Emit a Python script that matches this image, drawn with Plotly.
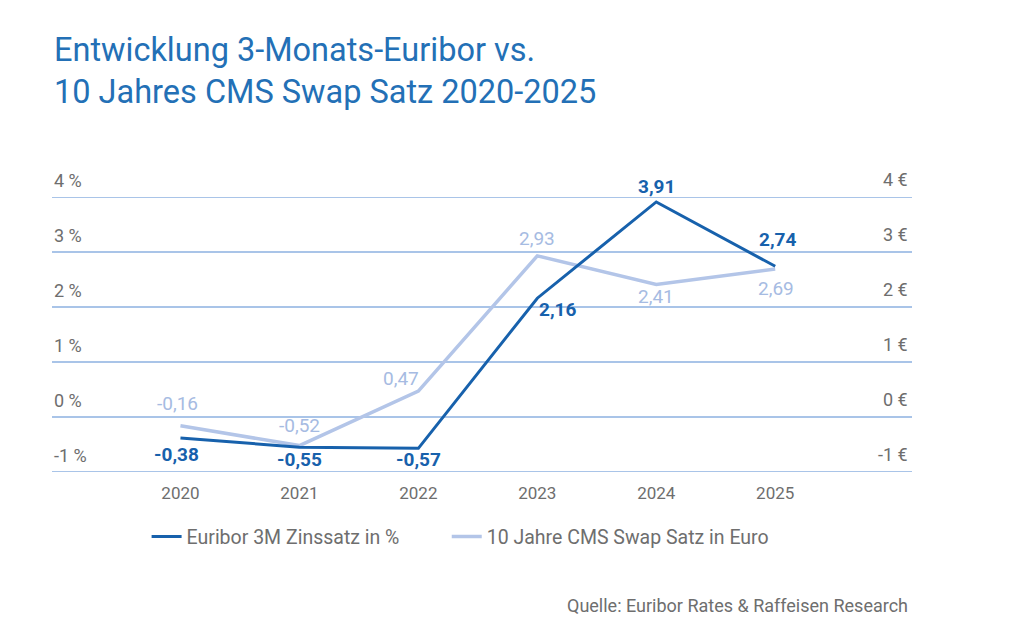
import plotly.graph_objects as go

years = [2020, 2021, 2022, 2023, 2024, 2025]
euribor = [-0.38, -0.55, -0.57, 2.16, 3.91, 2.74]
cms = [-0.16, -0.52, 0.47, 2.93, 2.41, 2.69]
y_ticks = [-1, 0, 1, 2, 3, 4]

name_euribor = "Euribor 3M Zinssatz in %"
name_cms = "10 Jahre CMS Swap Satz in Euro"
title_text = "Entwicklung 3-Monats-Euribor vs.<br>10 Jahres CMS Swap Satz 2020-2025"
source_text = "Quelle: Euribor Rates & Raffeisen Research"

# label offsets (pixels): (xshift, yshift)
euribor_off = [(-4, -17), (0, -12), (0, -11), (20, -11), (0, 15), (2, 27)]
cms_off = [(-3, 22), (0, 20), (-17, 13), (0, 17), (0, -12), (1, -19)]

DARK = "#1761ac"
LIGHT = "#b3c5e8"
LIGHT_TXT = "#a6bbe2"
GRID = "#8cb0e0"
GRAY = "#6e6e6e"
FONT = "Roboto"

def fmt(v):
    return f"{v:.2f}".replace(".", ",")

fig = go.Figure()
fig.add_trace(go.Scatter(x=years, y=cms, mode="lines", name=name_cms, legend="legend2",
                         line=dict(color=LIGHT, width=3.5)))
fig.add_trace(go.Scatter(x=years, y=euribor, mode="lines", name=name_euribor, legend="legend",
                         line=dict(color=DARK, width=3)))

annotations = []
for x, v, (dx, dy) in zip(years, euribor, euribor_off):
    annotations.append(dict(x=x, y=v, xref="x", yref="y", text=fmt(v), showarrow=False,
                            xshift=dx, yshift=dy, font=dict(family=FONT, size=19, color=DARK, weight="bold")))
for x, v, (dx, dy) in zip(years, cms, cms_off):
    annotations.append(dict(x=x, y=v, xref="x", yref="y", text=fmt(v), showarrow=False,
                            xshift=dx, yshift=dy, font=dict(family=FONT, size=19, color=LIGHT_TXT)))
for v in y_ticks:
    annotations.append(dict(x=0, y=v, xref="paper", yref="y", text=f"{v} %", showarrow=False,
                            xanchor="left", yanchor="middle", yshift=17,
                            font=dict(family=FONT, size=18, color=GRAY)))
    annotations.append(dict(x=1, y=v, xref="paper", yref="y", text=f"{v} €", showarrow=False,
                            xanchor="right", yanchor="middle", yshift=18, xshift=-2,
                            font=dict(family=FONT, size=18, color=GRAY)))
annotations.append(dict(x=1, y=-0.485, xref="paper", yref="paper", text=source_text, showarrow=False,
                        xanchor="right", yanchor="middle", xshift=-2,
                        font=dict(family=FONT, size=18, color=GRAY)))
annotations.append(dict(x=0, y=1.612, xref="paper", yref="paper", text=title_text, showarrow=False,
                        xanchor="left", yanchor="top", align="left", xshift=0,
                        font=dict(family=FONT, size=32.5, color="#2370b6")))

shapes = [dict(type="line", xref="paper", yref="y", x0=0, x1=1, y0=v, y1=v,
               line=dict(color=GRID, width=1.5), layer="below") for v in y_ticks]

legend_common = dict(orientation="h", xanchor="left", y=-0.236, yanchor="middle",
                     font=dict(family=FONT, size=19.5, color=GRAY), itemwidth=30,
                     bgcolor="rgba(0,0,0,0)")

fig.update_layout(
    width=1016, height=632,
    margin=dict(l=44, r=112, t=189, b=168),
    paper_bgcolor="white", plot_bgcolor="white",
    xaxis=dict(range=[2018.92, 2026.15], tickvals=years, showgrid=False, zeroline=False,
               showline=False, ticks="", ticklabelstandoff=9,
               tickfont=dict(family=FONT, size=17, color=GRAY)),
    yaxis=dict(range=[-1, 4], showgrid=False, zeroline=False, showticklabels=False, ticks=""),
    showlegend=True,
    legend=dict(x=0.11, **legend_common),
    legend2=dict(x=0.459, **legend_common),
    annotations=annotations,
    shapes=shapes,
)

fig.write_html("out.html")
